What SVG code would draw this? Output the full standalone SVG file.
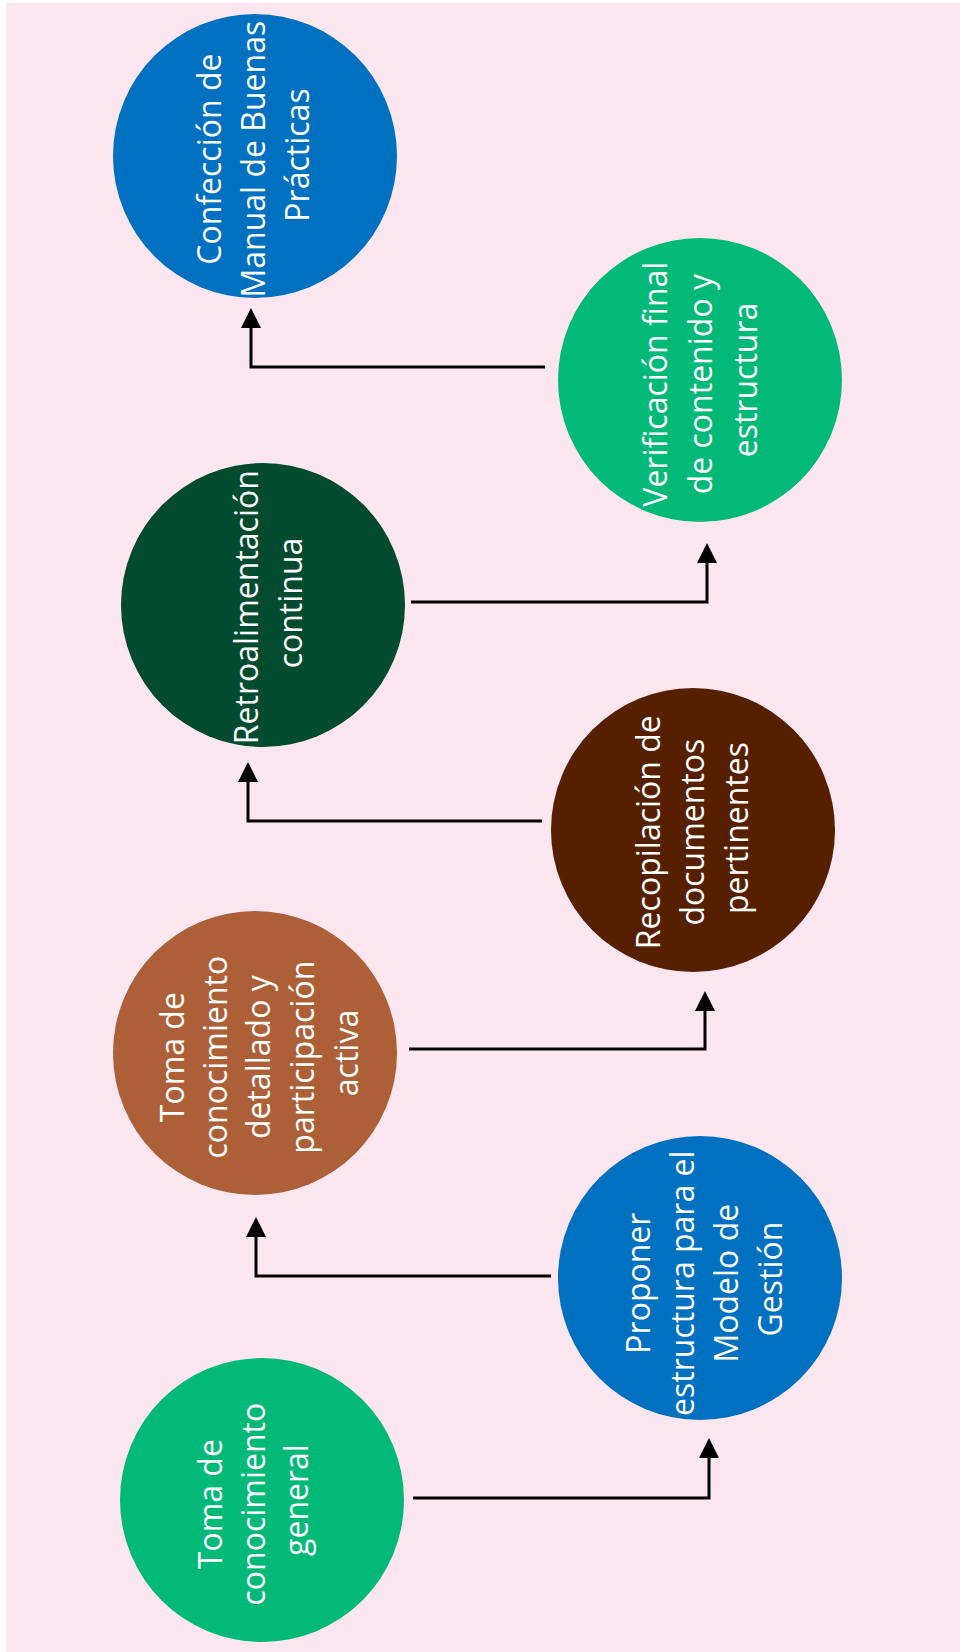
<svg xmlns="http://www.w3.org/2000/svg" width="960" height="1652" viewBox="0 0 960 1652">
  <defs>
    <style>
      .bg { fill: #fce7f0; }
      .link { fill: none; stroke: #000; stroke-width: 3; stroke-linejoin: miter; marker-end: url(#arrow); }
      .label { font-family: "Open Sans", "Noto Sans", "Liberation Sans", sans-serif; font-size: 32px; fill: #ffffff; text-anchor: middle; }
      .blue { fill: #0070c0; }
      .green { fill: #02b977; }
      .darkgreen { fill: #024b2e; }
      .darkbrown { fill: #561f00; }
      .copper { fill: #ad6038; }
    </style>
    <marker id="arrow" viewBox="0 0 20 20" refX="0" refY="10" markerWidth="20" markerHeight="20" markerUnits="userSpaceOnUse" orient="auto">
      <path d="M0,0 L20,10 L0,20 z" fill="#000"/>
    </marker>
  </defs>

  <!-- page background with thin white margin on the left and top -->
  <rect x="0" y="0" width="960" height="1652" fill="#ffffff"/>
  <rect class="bg" x="6" y="3" width="954" height="1649"/>

  <!-- elbow connectors between the steps -->
  <g id="connectors">
    <path class="link" d="M413,1498 H709 V1458"/>
    <path class="link" d="M551,1276 H256 V1237"/>
    <path class="link" d="M409,1049 H705 V1011"/>
    <path class="link" d="M542,821 H248 V782"/>
    <path class="link" d="M411,602 H707 V563"/>
    <path class="link" d="M545,367 H251 V328"/>
  </g>

  <!-- steps; labels run bottom-to-top -->
  <g id="node-toma-general">
    <circle class="green" cx="262" cy="1500" r="142"/>
    <text class="label" transform="rotate(-90)">
      <tspan x="-1500" y="222">Toma de</tspan>
      <tspan x="-1500" y="265">conocimiento</tspan>
      <tspan x="-1500" y="308">general</tspan>
    </text>
  </g>

  <g id="node-proponer">
    <circle class="blue" cx="700" cy="1278" r="142"/>
    <text class="label" transform="rotate(-90)">
      <tspan x="-1279" y="650">Proponer</tspan>
      <tspan x="-1279" y="694">estructura para el</tspan>
      <tspan x="-1279" y="738">Modelo de</tspan>
      <tspan x="-1279" y="782">Gestión</tspan>
    </text>
  </g>

  <g id="node-toma-detallado">
    <circle class="copper" cx="255" cy="1053" r="142"/>
    <text class="label" transform="rotate(-90)">
      <tspan x="-1053" y="184">Toma de</tspan>
      <tspan x="-1053" y="227">conocimiento</tspan>
      <tspan x="-1053" y="270">detallado y</tspan>
      <tspan x="-1053" y="314">participación</tspan>
      <tspan x="-1053" y="358">activa</tspan>
    </text>
  </g>

  <g id="node-recopilacion">
    <circle class="darkbrown" cx="693" cy="830" r="142"/>
    <text class="label" transform="rotate(-90)">
      <tspan x="-828" y="660">Recopilación de</tspan>
      <tspan x="-828" y="704">documentos</tspan>
      <tspan x="-828" y="748">pertinentes</tspan>
    </text>
  </g>

  <g id="node-retroalimentacion">
    <circle class="darkgreen" cx="263" cy="605" r="142"/>
    <text class="label" transform="rotate(-90)">
      <tspan x="-603" y="258">Retroalimentación</tspan>
      <tspan x="-603" y="302">continua</tspan>
    </text>
  </g>

  <g id="node-verificacion">
    <circle class="green" cx="700" cy="380" r="142"/>
    <text class="label" transform="rotate(-90)">
      <tspan x="-380" y="667">Verificación final</tspan>
      <tspan x="-380" y="712">de contenido y</tspan>
      <tspan x="-380" y="757">estructura</tspan>
    </text>
  </g>

  <g id="node-confeccion">
    <circle class="blue" cx="255" cy="156" r="142"/>
    <text class="label" transform="rotate(-90)">
      <tspan x="-155" y="221">Confección de</tspan>
      <tspan x="-155" y="265">Manual de Buenas</tspan>
      <tspan x="-155" y="309">Prácticas</tspan>
    </text>
  </g>
</svg>
